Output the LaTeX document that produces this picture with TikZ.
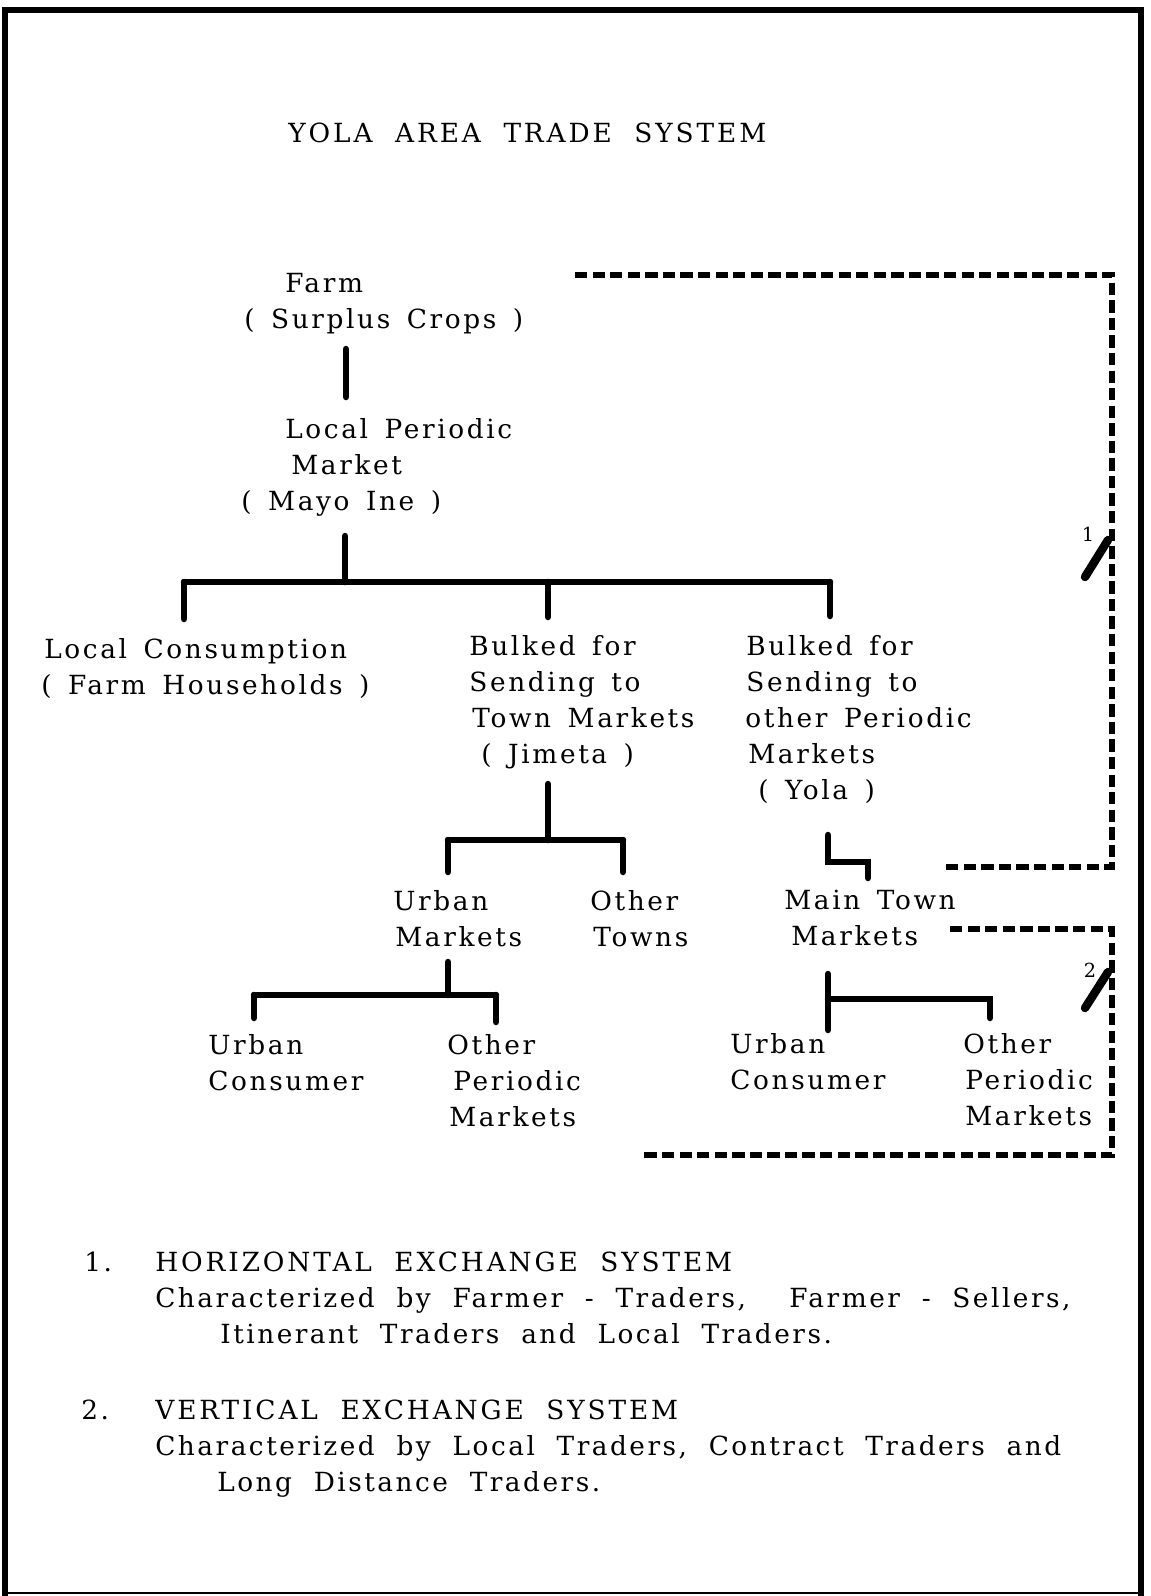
\documentclass[tikz,border=0pt]{standalone}
\usepackage{fontspec}
\setmainfont{DejaVu Serif}[LetterSpace=10,WordSpace=1.5]
\newfontfamily\capsfam{DejaVu Serif}[LetterSpace=11,WordSpace=2]
\newfontfamily\keyfam{DejaVu Serif}[LetterSpace=9.5,WordSpace=2]
\usetikzlibrary{positioning}
\newcommand{\tradefont}{\fontsize{15}{20.5}\selectfont}

\begin{document}
\begin{tikzpicture}[x=0.02cm,y=-0.02cm,
            txt/.style={align=left,inner sep=0pt,anchor=north west,font=\tradefont},
            bar/.style={line width=3.7pt,line cap=round},
            exch/.style={line width=3pt,dash pattern=on 7pt off 3pt},
            tick/.style={line width=4.8pt,line cap=round},
            tag/.style={inner sep=0pt,font=\fontsize{11}{12}\selectfont}]

            \useasboundingbox (0,0) rectangle (1150,1596);

            % frame
            \draw[line width=3.5pt] (5,1596) -- (5,10) -- (1141,10) -- (1141,1596);
            \draw[line width=1.2pt] (5,1593) -- (1141,1593);

            \node[txt] (title) at (288,123) {\capsfam YOLA AREA TRADE SYSTEM};

            \node[txt] (farm) at (244,273) {\hspace*{8.2mm}Farm\\( Surplus Crops )};
            \node[txt] (lpm) at (241,418) {\hspace*{8.8mm}Local Periodic\\\hspace*{10mm}Market\\( Mayo Ine )};
            \node[txt] (cons) at (41,638) {\hspace*{0.6mm}Local Consumption\\( Farm Households )};
            \node[txt] (town) at (469,635) {Bulked for\\Sending to\\\hspace*{0.6mm}Town Markets\\\hspace*{2.4mm}( Jimeta )};
            \node[txt] (peri) at (745,635) {\hspace*{0.2mm}Bulked for\\\hspace*{0.2mm}Sending to\\other Periodic\\\hspace*{0.6mm}Markets\\\hspace*{2.6mm}( Yola )};
            \node[txt] (urbm) at (393,890) {Urban\\\hspace*{0.4mm}Markets};
            \node[txt] (othtn) at (590,890) {Other\\\hspace*{0.6mm}Towns};
            \node[txt] (mtown) at (784,890) {Main Town\\\hspace*{1.4mm}Markets};
            \node[txt] (ucons) at (208,1034) {Urban\\Consumer};
            \node[txt] (opm) at (447,1034) {Other\\\hspace*{1.2mm}Periodic\\\hspace*{0.4mm}Markets};
            \node[txt] (uconsb) at (730,1033) {Urban\\Consumer};
            \node[txt] (opmb) at (963,1033) {Other\\\hspace*{0.4mm}Periodic\\\hspace*{0.4mm}Markets};

            % key
            \node[txt] (keyh) at (155,1252) {{\capsfam HORIZONTAL EXCHANGE SYSTEM}\\{\keyfam Characterized by Farmer - Traders,\ \ Farmer - Sellers,}\\\hspace*{13mm}{\keyfam Itinerant Traders and Local Traders.}};
            \node[txt] (numh) at (84,1252) {1.};
            \node[txt] (keyv) [below right=1.1cm and 0pt of keyh.south west] {{\capsfam VERTICAL EXCHANGE SYSTEM}\\{\keyfam Characterized by Local Traders, Contract Traders and}\\\hspace*{12.4mm}{\keyfam Long Distance Traders.}};
            \node[txt] (numv) at (81,1400) {2.};

            % junctions of the bars
            \coordinate (fa) at (346,349);  \coordinate (fb) at (346,397);
            \coordinate (la) at (345,536);  \coordinate (lb) at (345,582);
            \coordinate (ha) at (184,582);  \coordinate (hb) at (548,582);  \coordinate (hc) at (830,582);
            \coordinate (ja) at (548,784);  \coordinate (jb) at (548,840);
            \coordinate (jl) at (448,840);  \coordinate (jr) at (623,840);
            \coordinate (ya) at (828,835);  \coordinate (yc) at (868,862);  \coordinate (yb) at (868,878);
            \coordinate (ua) at (448,962);  \coordinate (ub) at (448,995);
            \coordinate (ul) at (254,995);  \coordinate (ur) at (496,995);
            \coordinate (ma) at (828,974);  \coordinate (mb) at (828,1030);
            \coordinate (mm) at (828,999);  \coordinate (mr) at (990,999);

            \draw[bar] (fa) -- (fb);
            \draw[bar] (la) -- (lb);
            \draw[bar] (ha) -- (hc);
            \draw[bar] (ha) -- ++(0,37);
            \draw[bar] (hb) -- ++(0,35);
            \draw[bar] (hc) -- ++(0,34);
            \draw[bar] (ja) -- (jb);
            \draw[bar] (jl) -- (jr);
            \draw[bar] (jl) -- ++(0,32);
            \draw[bar] (jr) -- ++(0,32);
            \draw[bar] (ya) |- (yc) -- (yb);
            \draw[bar] (ua) -- (ub);
            \draw[bar] (ul) -- (ur);
            \draw[bar] (ul) -- ++(0,23);
            \draw[bar] (ur) -- ++(0,27);
            \draw[bar] (ma) -- (mb);
            \draw[bar] (mm) -- (mr) -- ++(0,19);

            % exchange loops
            \coordinate (xa) at (575,275);   \coordinate (xb) at (941,867);
            \coordinate (xc) at (950,929);   \coordinate (xd) at (644,1155);
            \coordinate (xr) at (1112,0);

            \draw[exch] (xa) -- (xa -| xr) -- (xb -| xr) -- (xb);
            \draw[exch] (xc) -- (xc -| xr) -- (xd -| xr) -- (xd);

            \draw[tick] (1085,577) -- (1108,540);
            \node[tag] (t1) at (1088,534) {1};
            \draw[tick] (1085,1008) -- (1108,972);
            \node[tag] (t2) at (1090,970) {2};

\end{tikzpicture}
\end{document}
